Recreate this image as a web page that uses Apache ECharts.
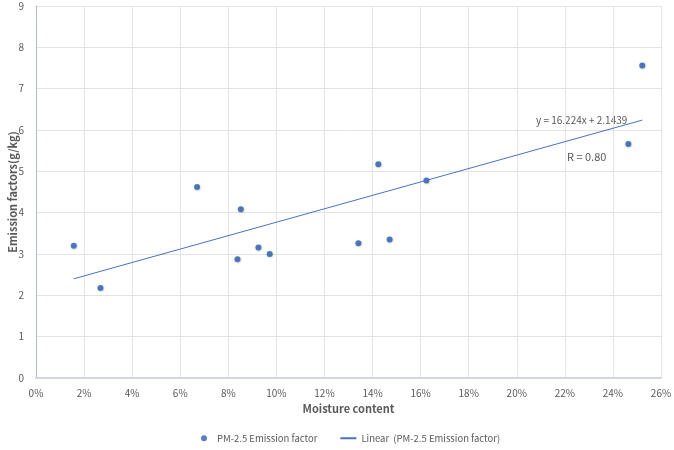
<!DOCTYPE html>
<html>
<head>
<meta charset="utf-8">
<script src="https://cdn.jsdelivr.net/npm/echarts@6/dist/echarts.min.js"></script>
<style>
  html, body { margin: 0; padding: 0; background: #fff; }
  #chart { width: 674px; height: 450px; }
</style>
</head>
<body>
<div id="chart"></div>
<script>
// moisture content (%) and PM-2.5 emission factor (g/kg)
var moisture = [1.57, 2.68, 6.70, 8.52, 8.38, 9.25, 9.72, 14.24, 16.24, 13.41, 14.71, 25.22, 24.64];
var emission = [3.20, 2.18, 4.62, 4.08, 2.87, 3.16, 3.00, 5.17, 4.78, 3.26, 3.35, 7.56, 5.66];
// linear trend end points
var trendX = [1.57, 25.22];
var trendY = [2.40, 6.24];
var equationText = "y = 16.224x + 2.1439";
var rText = "R = 0.80";

var font = "'Noto Sans CJK KR', 'Noto Sans', sans-serif";
var grey = "#595959";

var chart = echarts.init(document.getElementById("chart"));

chart.setOption({
  backgroundColor: "#fff",
  animation: false,
  textStyle: { fontFamily: font },
  grid: { left: 36, right: 13, top: 6, bottom: 72, containLabel: false, outerBoundsMode: "none" },
  legend: {
    bottom: 2,
    left: 196,
    itemGap: 22,
    itemWidth: 16,
    itemHeight: 6,
    textStyle: { color: grey, fontSize: 9.5, fontFamily: font },
    data: [
      { name: "PM-2.5 Emission factor", icon: "circle" },
      { name: "Linear  (PM-2.5 Emission factor)", itemStyle: { opacity: 0 } }
    ]
  },
  xAxis: {
    type: "value",
    min: 0,
    max: 26,
    interval: 2,
    name: "Moisture content",
    nameLocation: "middle",
    nameGap: 23,
    nameTextStyle: { color: grey, fontSize: 11, fontWeight: "bold", fontFamily: font },
    axisLabel: { color: grey, fontSize: 10, formatter: "{value}%", margin: 10 },
    axisTick: { show: false },
    axisLine: { lineStyle: { color: "#d0d7e2", width: 2 } },
    splitLine: { lineStyle: { color: "#e3e3e3" } }
  },
  yAxis: {
    type: "value",
    min: 0,
    max: 9,
    interval: 1,
    name: "Emission factors(g/kg)",
    nameLocation: "middle",
    nameGap: 18,
    nameMoveOverlap: false,
    nameTextStyle: { color: grey, fontSize: 11, fontWeight: "bold", fontFamily: font },
    axisLabel: { color: grey, fontSize: 10, margin: 12 },
    axisTick: { show: false },
    axisLine: { show: true, lineStyle: { color: "#a9bcd8", width: 1 } },
    splitLine: { lineStyle: { color: "#e3e3e3" } }
  },
  series: [
    {
      name: "PM-2.5 Emission factor",
      type: "scatter",
      symbol: "circle",
      symbolSize: 6,
      itemStyle: {
        color: "#2d5fb4",
        shadowColor: "rgba(0,0,0,0.3)",
        shadowBlur: 2,
        shadowOffsetX: 0.5,
        shadowOffsetY: 0.5
      },
      data: moisture.map(function (x, i) { return [x, emission[i]]; })
    },
    {
      name: "Linear  (PM-2.5 Emission factor)",
      type: "line",
      symbol: "none",
      lineStyle: { color: "#4a72c0", width: 1 },
      itemStyle: { color: "#4a72c0" },
      data: trendX.map(function (x, i) { return [x, trendY[i]]; })
    }
  ],
  graphic: [
    {
      type: "text",
      left: 536,
      top: 115,
      style: { text: equationText, fill: grey, fontSize: 10, fontFamily: font }
    },
    {
      type: "text",
      left: 567,
      top: 151,
      style: { text: rText, fill: grey, fontSize: 11, fontFamily: font }
    }
  ]
});
</script>
</body>
</html>
